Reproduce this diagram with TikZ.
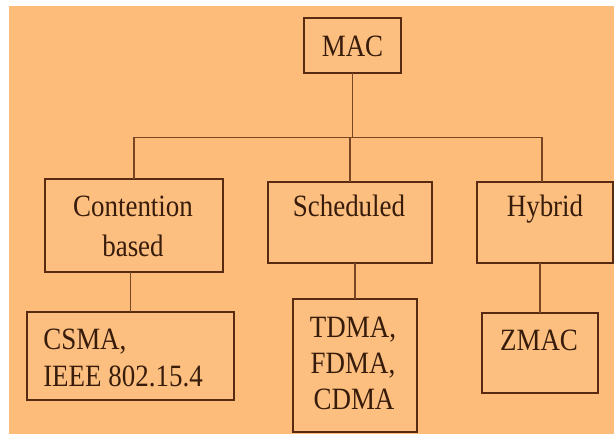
\documentclass[tikz,border=0pt]{standalone}
\usepackage{fontspec}
\usepackage{graphicx}
\newfontfamily\serifface{Liberation Serif}
\newcommand{\sqz}[1]{\scalebox{0.87}[1]{#1}}
\definecolor{bgorange}{RGB}{253,188,122}
\definecolor{boxfill}{RGB}{253,191,127}
\definecolor{edge}{RGB}{88,42,18}
\definecolor{conn}{RGB}{120,70,35}
\definecolor{ink}{RGB}{55,28,12}
\begin{document}
\begin{tikzpicture}[x=0.75pt,y=-0.75pt,
  box/.style={draw=edge,line width=1.1pt,fill=boxfill,inner sep=0pt,outer sep=0pt},
  lbl/.style={text=ink,inner sep=0pt,anchor=base,font=\serifface\fontsize{23.25}{27.75}\selectfont},
  link/.style={draw=conn,line width=1pt}]
\useasboundingbox (0,0) rectangle (614,434);
\fill[white] (0,0) rectangle (614,434);
\fill[bgorange] (9,6) rectangle (614,434);
% boxes
\node[box,minimum width={97*0.75pt},minimum height={55*0.75pt}] (mac) at (352.5,45.5) {};
\node[box,minimum width={178*0.75pt},minimum height={93*0.75pt}] (cont) at (134,225.5) {};
\node[box,minimum width={164*0.75pt},minimum height={81*0.75pt}] (sched) at (350,222.5) {};
\node[box,minimum width={136*0.75pt},minimum height={81*0.75pt}] (hyb) at (545,222.5) {};
\node[box,minimum width={207*0.75pt},minimum height={88*0.75pt}] (csma) at (130.5,356) {};
\node[box,minimum width={124*0.75pt},minimum height={133*0.75pt}] (tdma) at (355,365.5) {};
\node[box,minimum width={116*0.75pt},minimum height={80*0.75pt}] (zmac) at (540,353) {};
% texts
\node[lbl] (tmac) at (352.5,56.5) {\sqz{MAC}};
\node[lbl] (tcont1) at (133,217) {\sqz{Contention}};
\node[lbl] (tcont2) at (133,257) {\sqz{based}};
\node[lbl] (tsched) at (349,217) {\sqz{Scheduled}};
\node[lbl] (thyb) at (545,217) {\sqz{Hybrid}};
\node[lbl,anchor=base west] (tcsma1) at (43,350) {\sqz{CSMA,}};
\node[lbl,anchor=base west] (tcsma2) at (43,387) {\sqz{IEEE 802.15.4}};
\node[lbl] (ttdma1) at (353,338) {\sqz{TDMA,}};
\node[lbl] (ttdma2) at (353,374) {\sqz{FDMA,}};
\node[lbl] (ttdma3) at (354,410) {\sqz{CDMA}};
\node[lbl] (tzmac) at (539,351) {\sqz{ZMAC}};
% connectors
\coordinate (bus) at (352,137.5);
\coordinate (hybtop) at ([xshift={-3*0.75pt}]hyb.north);
\draw[link] (mac.south) -- (mac.south |- bus);
\draw[link] (cont.north |- bus) -- (hybtop |- bus);
\draw[link] (cont.north |- bus) -- (cont.north);
\draw[link] (sched.north |- bus) -- (sched.north);
\draw[link] (hybtop |- bus) -- (hybtop);
\draw[link] (cont.south -| csma.north) -- (csma.north);
\draw[link] (sched.south -| tdma.north) -- (tdma.north);
\draw[link] (hyb.south -| zmac.north) -- (zmac.north);
\end{tikzpicture}
\end{document}
